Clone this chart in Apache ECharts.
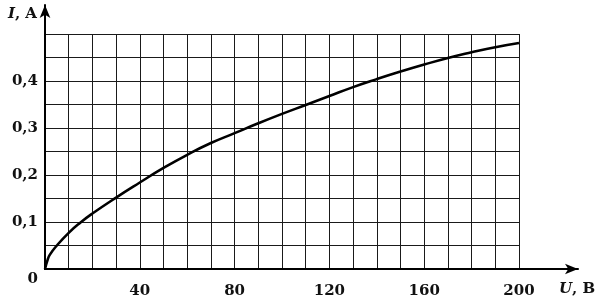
<!DOCTYPE html>
<html>
<head>
<meta charset="utf-8">
<script src="https://cdn.jsdelivr.net/npm/echarts@6/dist/echarts.min.js"></script>
<style>
html,body{margin:0;padding:0;background:#fff;}
#chart{width:600px;height:303px;}
</style>
</head>
<body>
<div id="chart"></div>
<script>
// Data
var voltage = [0, 1, 2, 5, 10, 15, 20, 30, 40, 50, 60, 70, 80, 90, 100, 110, 120, 130, 140, 150, 160, 170, 180, 190, 200];
var current = [0, 0.018, 0.03, 0.05, 0.077, 0.099, 0.118, 0.152, 0.184, 0.215, 0.243, 0.268, 0.289, 0.31, 0.33, 0.349, 0.368, 0.387, 0.404, 0.42, 0.435, 0.449, 0.461, 0.472, 0.481];
var xTickValues = [40, 80, 120, 160, 200];
var xTickLabels = ['40', '80', '120', '160', '200'];
var yTickValues = [0, 0.1, 0.2, 0.3, 0.4];
var yTickLabels = ['0', '0,1', '0,2', '0,3', '0,4'];
var xAxisName = ['U', ', B'];
var yAxisName = ['I', ', A'];

var points = voltage.map(function (u, i) { return [u, current[i]]; });
var FONT = 'DejaVu Serif';

function findLabel(values, labels, v) {
  for (var i = 0; i < values.length; i++) {
    if (Math.abs(values[i] - v) < 1e-6) return labels[i];
  }
  return '';
}

var chart = echarts.init(document.getElementById('chart'), null, {renderer: 'canvas'});
chart.setOption({
  animation: false,
  backgroundColor: '#fff',
  grid: [
    {left: 45, top: 34, width: 474, height: 235, containLabel: false},
    {left: 45, top: 5, width: 533, height: 264, containLabel: false}
  ],
  xAxis: [
    {
      type: 'value', gridIndex: 0, min: 0, max: 200, interval: 10,
      axisLine: {show: true, onZero: false, lineStyle: {color: '#000', width: 2}},
      axisTick: {show: false},
      splitLine: {show: true, lineStyle: {color: '#1a1a1a', width: 1}},
      axisLabel: {
        margin: 15, fontFamily: FONT, fontWeight: 'bold', fontSize: 15, color: '#111',
        showMinLabel: true, showMaxLabel: true,
        formatter: function (v) { return findLabel(xTickValues, xTickLabels, v); }
      }
    },
    {
      type: 'value', gridIndex: 1, min: 0, max: 1,
      axisLine: {show: true, onZero: false, symbol: ['none', 'arrow'], symbolSize: [8, 13], lineStyle: {color: '#000', width: 2}},
      axisTick: {show: false}, splitLine: {show: false}, axisLabel: {show: false},
      name: '{i|' + xAxisName[0] + '}{n|' + xAxisName[1] + '}',
      nameLocation: 'end', nameGap: -1,
      nameTextStyle: {
        align: 'center', verticalAlign: 'top', padding: [13, 0, 0, 0],
        rich: {
          i: {fontFamily: FONT, fontStyle: 'italic', fontWeight: 'bold', fontSize: 15, color: '#111'},
          n: {fontFamily: FONT, fontWeight: 'bold', fontSize: 15, color: '#111'}
        }
      }
    }
  ],
  yAxis: [
    {
      type: 'value', gridIndex: 0, min: 0, max: 0.5, interval: 0.05,
      axisLine: {show: true, onZero: false, lineStyle: {color: '#000', width: 2}},
      axisTick: {show: false},
      splitLine: {show: true, lineStyle: {color: '#1a1a1a', width: 1}},
      axisLabel: {
        margin: 7, fontFamily: FONT, fontWeight: 'bold', fontSize: 15, color: '#111',
        showMinLabel: true, showMaxLabel: true,
        formatter: function (v) {
          var t = findLabel(yTickValues, yTickLabels, v);
          if (Math.abs(v) < 1e-9) return '{z|' + t + '}';
          return t;
        },
        rich: {
          z: {fontFamily: FONT, fontWeight: 'bold', fontSize: 15, color: '#111', padding: [20, 0, 0, 0]}
        }
      }
    },
    {
      type: 'value', gridIndex: 1, min: 0, max: 1,
      axisLine: {show: true, onZero: false, symbol: ['none', 'arrow'], symbolSize: [8, 13], lineStyle: {color: '#000', width: 2}},
      axisTick: {show: false}, splitLine: {show: false}, axisLabel: {show: false},
      name: '{i|' + yAxisName[0] + '}{n|' + yAxisName[1] + '}',
      nameLocation: 'end', nameGap: -9,
      nameTextStyle: {
        align: 'right', verticalAlign: 'middle', padding: [0, 8, 0, 0],
        rich: {
          i: {fontFamily: FONT, fontStyle: 'italic', fontWeight: 'bold', fontSize: 15, color: '#111'},
          n: {fontFamily: FONT, fontWeight: 'bold', fontSize: 15, color: '#111'}
        }
      }
    }
  ],
  series: [{
    type: 'line', xAxisIndex: 0, yAxisIndex: 0,
    data: points, smooth: 0.5, symbol: 'none',
    lineStyle: {color: '#000', width: 2.6},
    z: 5
  }]
});
</script>
</body>
</html>
